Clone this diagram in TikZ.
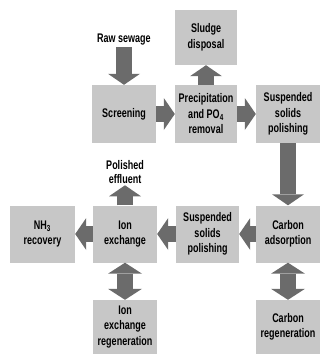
\documentclass[tikz,border=0pt]{standalone}
\usepackage{fontspec}
\setmainfont{Liberation Sans}[FakeStretch=0.72]
\usetikzlibrary{arrows.meta}

\begin{document}
\begin{tikzpicture}[x=1pt,y=-1pt,
    box/.style={fill=black!22, minimum width=64pt, minimum height=58pt, inner sep=1pt,
      align=center, font=\bfseries\fontsize{12.5}{15.5}\selectfont},
    lbl/.style={align=center, inner sep=1.5pt, font=\bfseries\fontsize{12.5}{14}\selectfont},
    flow/.style={draw=black!58, line width=16pt,
      -{Triangle[width=32pt,length=11pt,line width=0pt]}},
    twoway/.style={draw=black!58, line width=16pt,
      {Triangle[width=34pt,length=11pt,line width=0pt]}-{Triangle[width=34pt,length=11pt,line width=0pt]}}]
    \useasboundingbox (0,0) rectangle (320,354);

    % top row
    \node[box, minimum width=62pt, minimum height=55pt] (sludge) at (206,37.5) {Sludge\\disposal};
    \node[box] (screen) at (124,114) {Screening};
    \node[box, minimum width=62pt] (precip) at (206,114) {Precipitation\\and PO\textsubscript{4}\\removal};
    \node[box] (polishA) at (288,114) {Suspended\\solids\\polishing};
    \node[lbl] (raw) at (124,40) {Raw sewage};

    % middle row
    \node[box, minimum height=57pt] (carbon) at (288,234) {Carbon\\adsorption};
    \node[box, minimum width=63pt, minimum height=57pt] (polishB) at (207.5,234) {Suspended\\solids\\polishing};
    \node[box, minimum height=57pt] (ionx) at (125,234) {Ion\\exchange};
    \node[box, minimum width=65pt, minimum height=57pt] (nh3) at (42.5,234) {NH\textsubscript{3}\\recovery};
    \node[lbl] (effluent) at (125,172) {Polished\\effluent};

    % bottom row
    \node[box, minimum height=54pt] (ionreg) at (125,327) {Ion\\exchange\\regeneration};
    \node[box, minimum height=54pt] (carbreg) at (288,327) {Carbon\\regeneration};

    \draw[flow] (raw.south) -- (screen.north);
    \draw[flow] (screen.east) -- (precip.west);
    \draw[flow] (precip.north) -- (sludge.south);
    \draw[flow] (precip.east) -- (polishA.west);
    \draw[flow] (polishA.south) -- (carbon.north);
    \draw[flow] (carbon.west) -- (polishB.east);
    \draw[flow] (polishB.west) -- (ionx.east);
    \draw[flow] (ionx.west) -- (nh3.east);
    \draw[flow] (ionx.north) -- (effluent.south);
    \draw[twoway] (ionx.south) -- (ionreg.north);
    \draw[twoway] (carbon.south) -- (carbreg.north);
\end{tikzpicture}
\end{document}
